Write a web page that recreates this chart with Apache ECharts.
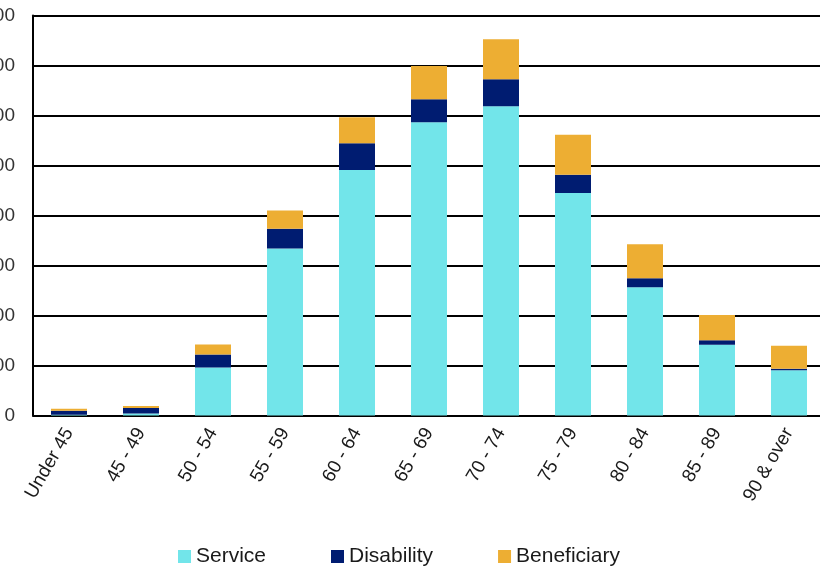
<!DOCTYPE html>
<html>
<head>
<meta charset="utf-8">
<script src="https://cdn.jsdelivr.net/npm/echarts@6/dist/echarts.min.js"></script>
<style>
html,body{margin:0;padding:0;background:#fff;}
#chart{width:820px;height:567px;}
</style>
</head>
<body>
<div id="chart"></div>
<script>
const categories = ['Under 45','45 - 49','50 - 54','55 - 59','60 - 64','65 - 69','70 - 74','75 - 79','80 - 84','85 - 89','90 & over'];
const service = [3, 8, 192, 668, 982, 1173, 1237, 890, 513, 283, 181];
const disability = [16, 22, 52, 79, 107, 92, 108, 73, 36, 18, 6];
const beneficiary = [8, 8, 40, 73, 104, 133, 160, 160, 136, 101, 92];
const seriesNames = ['Service', 'Disability', 'Beneficiary'];
const colors = ['#72E5EA', '#001C71', '#EDAE33'];
const yMin = 0, yMax = 1600, yStep = 200;

const font = 'Liberation Sans, Arial, sans-serif';
const chart = echarts.init(document.getElementById('chart'), null, {renderer: 'canvas'});
const values = [service, disability, beneficiary];
chart.setOption({
  animation: false,
  textStyle: {fontFamily: font},
  legend: {
    left: 173, top: 541,
    icon: 'rect', itemWidth: 13, itemHeight: 13, itemGap: 65,
    textStyle: {fontSize: 21, color: '#1a1a1a', fontFamily: font},
    data: seriesNames
  },
  grid: {left: 33, right: -5, top: 15.5, bottom: 151.5, containLabel: false, outerBoundsMode: 'none'},
  xAxis: {
    type: 'category',
    data: categories,
    axisLine: {lineStyle: {color: '#000', width: 2}},
    axisTick: {show: false},
    axisLabel: {interval: 0, rotate: 60, margin: 14, fontSize: 19, color: '#1a1a1a', fontFamily: font}
  },
  yAxis: {
    type: 'value',
    min: yMin, max: yMax, interval: yStep,
    axisLine: {show: true, lineStyle: {color: '#000', width: 2}},
    axisTick: {show: false},
    splitLine: {lineStyle: {color: '#000', width: 2}},
    axisLabel: {
      margin: 18, fontSize: 19, color: '#333', fontFamily: font,
      formatter: v => v.toLocaleString('en-US')
    }
  },
  series: seriesNames.map((n, i) => ({
    name: n,
    type: 'bar',
    stack: 'total',
    barWidth: '50%',
    itemStyle: {color: colors[i]},
    data: values[i]
  }))
});
</script>
</body>
</html>
